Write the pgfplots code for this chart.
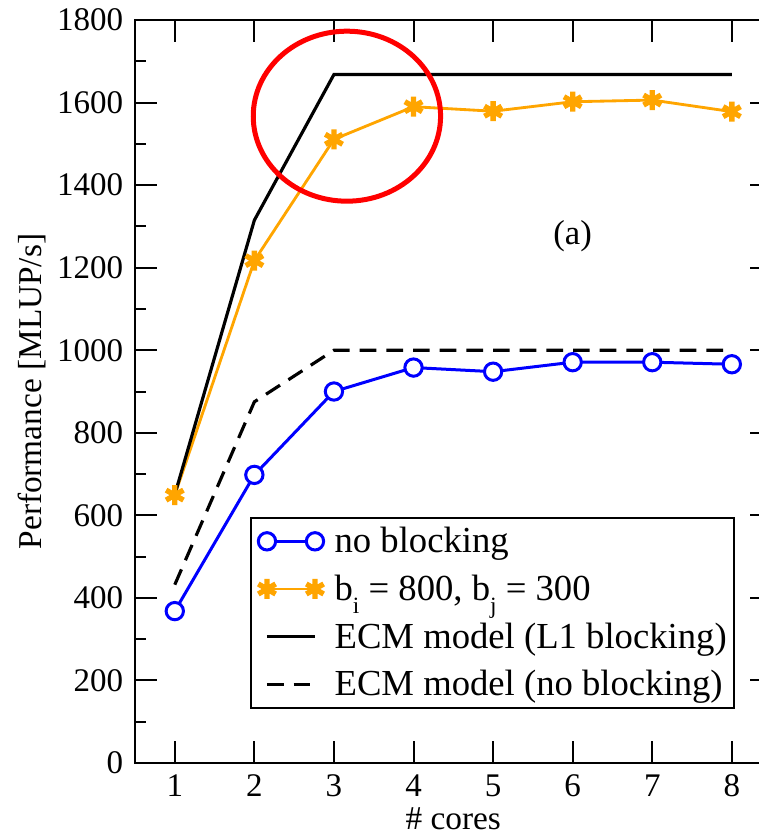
\documentclass[border=0pt]{standalone}
\usepackage{fontspec}
\setmainfont{Liberation Serif}
\newfontfamily\tnr{Liberation Serif}
\usepackage{pgfplots}
\pgfplotsset{compat=1.18}
\usetikzlibrary{calc}
\definecolor{myorange}{RGB}{255,165,0}
\begin{document}
\begin{tikzpicture}
\begin{axis}[
  scale only axis, width=191pt, height=222.9pt,
  xmin=0.5, xmax=8.5, ymin=0, ymax=1800,
  xtick={1,2,3,4,5,6,7,8}, ytick={0,200,...,1800},
  minor y tick num=1,
  tick align=inside, major tick length=6.6pt, minor tick length=3.2pt,
  axis line style={line width=0.6pt},
  every tick/.style={black, line width=0.6pt},
  /pgf/number format/assume math mode=true,
  /pgf/number format/1000 sep={},
  tick label style={font=\tnr\fontsize{9.9}{11}\selectfont},
  xlabel={\# cores}, ylabel={Performance [MLUP/s]},
  label style={font=\tnr\fontsize{10}{12}\selectfont},
  xlabel style={at={(axis description cs:0.5,-0.075)}, anchor=center},
  ylabel style={at={(axis description cs:-0.1618,0.5)}, anchor=center},
  legend style={at={(axis description cs:0.1806,0.0727)}, anchor=south west,
    draw=black, line width=0.6pt, font=\tnr\fontsize{11}{13}\selectfont,
    inner xsep=2.2pt, inner ysep=2.6pt, row sep=5.3pt, column sep=3.3pt,
    nodes={inner sep=0pt, text height=8pt, text depth=1pt, anchor=west}},
  legend cell align=left,
  legend image code/.code={\draw[#1] plot coordinates {(0pt,0pt) (14.4pt,0pt)};},
]
\coordinate (SW) at (rel axis cs:0,0);
\addplot[blue, line width=0.9pt, mark=*, mark size=2.6pt, mark options={fill=white, line width=0.9pt}]
  coordinates {(1,368)(2,698)(3,900)(4,958)(5,948)(6,971)(7,971)(8,966)};
\addlegendentry{no blocking}
\addplot[myorange, line width=0.85pt, mark=asterisk, mark size=3pt, mark options={line width=1.6pt}]
  coordinates {(1,649)(2,1217)(3,1511)(4,1590)(5,1579)(6,1602)(7,1606)(8,1578)};
\addlegendentry{b\raisebox{-4pt}{\fontsize{7}{7}\selectfont i} = 800, b\raisebox{-4pt}{\fontsize{7}{7}\selectfont j} = 300}
\addplot[black, line width=0.95pt]
  coordinates {(1,650)(2,1315)(3,1668)(4,1668)(5,1668)(6,1668)(7,1668)(8,1668)};
\addlegendentry{ECM model (L1 blocking)}
\addplot[black, line width=0.95pt, dash pattern=on 5pt off 3pt]
  coordinates {(1,432)(2,875)(3,1000)(4,1000)(5,1000)(6,1000)(7,1000)(8,1000)};
\addlegendentry{ECM model (no blocking)}
\node[font=\tnr\fontsize{10.4}{12}\selectfont] at (axis cs:6.0,1277) {(a)};
\draw[red, line width=1.5pt] (axis cs:3.163,1567) ellipse [x radius=28.1pt, y radius=25.5pt];
\end{axis}
\pgfresetboundingbox
\path[use as bounding box] ($(SW)+(-40.5pt,-20.7pt)$) rectangle ($(SW)+(187.2pt,228.9pt)$);
\end{tikzpicture}
\end{document}
